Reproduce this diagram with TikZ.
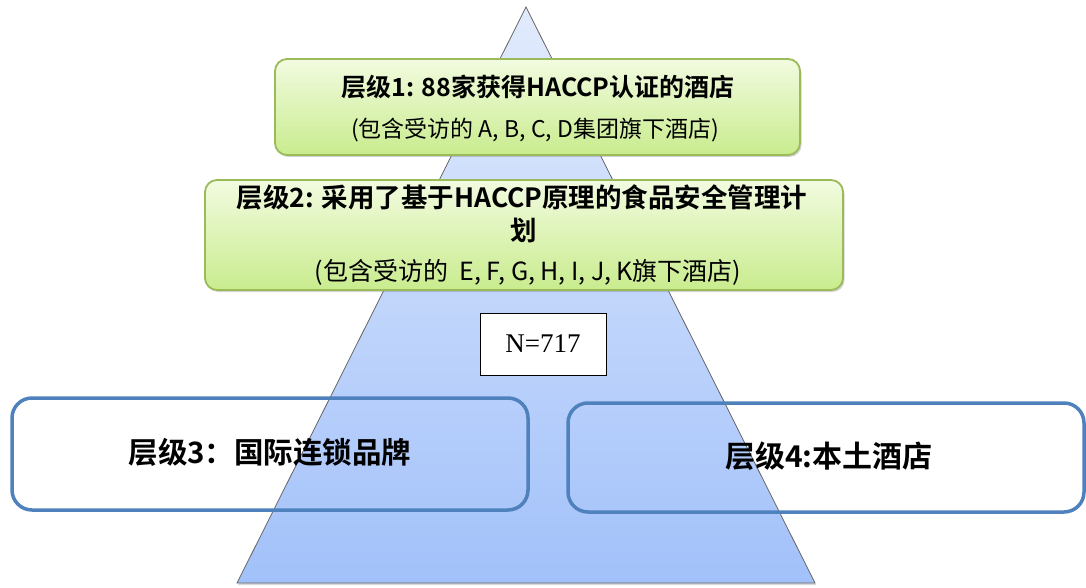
\documentclass[tikz,border=0pt]{standalone}
\usepackage{fontspec}
\setmainfont{Liberation Serif}
\newfontfamily\cjk{Noto Sans CJK SC}[BoldFont={* Bold}]
\usetikzlibrary{shadows}
\definecolor{greenborder}{HTML}{9BBB59}
\definecolor{greentop}{HTML}{F2FBE0}
\definecolor{greenbot}{HTML}{C9EC8E}
\definecolor{bluebox}{HTML}{4F81BD}
\definecolor{tritop}{HTML}{E2EBFC}
\definecolor{tribot}{HTML}{A2C1FA}
\tikzset{
  greenbox/.style={draw=greenborder, line width=1.8pt, rounded corners=12pt,
    top color=greentop, bottom color=greenbot,
    drop shadow={shadow xshift=1.5pt, shadow yshift=-2pt, opacity=0.35}},
  bluebox/.style={draw=bluebox, line width=3.5pt, rounded corners=20pt},
  nbox/.style={draw=black, line width=1pt, fill=white},
  ttl/.style={font=\cjk\bfseries\fontsize{25}{29}\selectfont, inner sep=0pt},
  ttlb/.style={font=\cjk\bfseries\fontsize{26.5}{30}\selectfont, inner sep=0pt},
  sub/.style={font=\cjk\fontsize{23}{27}\selectfont, inner sep=0pt},
  subb/.style={font=\cjk\fontsize{25}{29}\selectfont, inner sep=0pt},
  big/.style={font=\cjk\bfseries\fontsize{29.5}{34}\selectfont, inner sep=0pt},
}
\begin{document}
\begin{tikzpicture}[x=1pt,y=-1pt]
\useasboundingbox (0,0) rectangle (1086,588);
% pyramid
\shade[top color=tritop, bottom color=tribot, draw=gray!80!black, line width=0.8pt,
  drop shadow={shadow xshift=1pt, shadow yshift=-2pt, opacity=0.3}]
  (526,7) coordinate (apex) -- (815,583) coordinate (br) -- (237,583) coordinate (bl) -- cycle;
% level 1
\path[greenbox] (275,59) rectangle (800,155);
\node[ttl] (t1) at (538,87) {层级1: 88家获得HACCP认证的酒店};
\node[sub] (s1) at (535,130) {(包含受访的 A, B, C, D集团旗下酒店)};
% level 2
\path[greenbox] (205,180) rectangle (843,290);
\node[ttlb] (t2a) at (522,197) {层级2: 采用了基于HACCP原理的食品安全管理计};
\node[ttlb] (t2b) at (524,230) {划};
\node[subb] (s2) at (528,272) {(包含受访的\ \ E, F, G, H, I, J, K旗下酒店)};
% N
\node[nbox, minimum width=126pt, minimum height=62pt, font=\fontsize{27}{31}\selectfont] (n) at (543,344) {N=717};
% level 3 and 4
\draw[bluebox] (12,398) rectangle (528,510);
\node[big] (t3) at (270,452) {层级3：国际连锁品牌};
\draw[bluebox] (568,403) rectangle (1084,512);
\node[big, font=\cjk\bfseries\fontsize{30}{34}\selectfont] (t4) at (829,456) {层级4:本土酒店};
\end{tikzpicture}
\end{document}
